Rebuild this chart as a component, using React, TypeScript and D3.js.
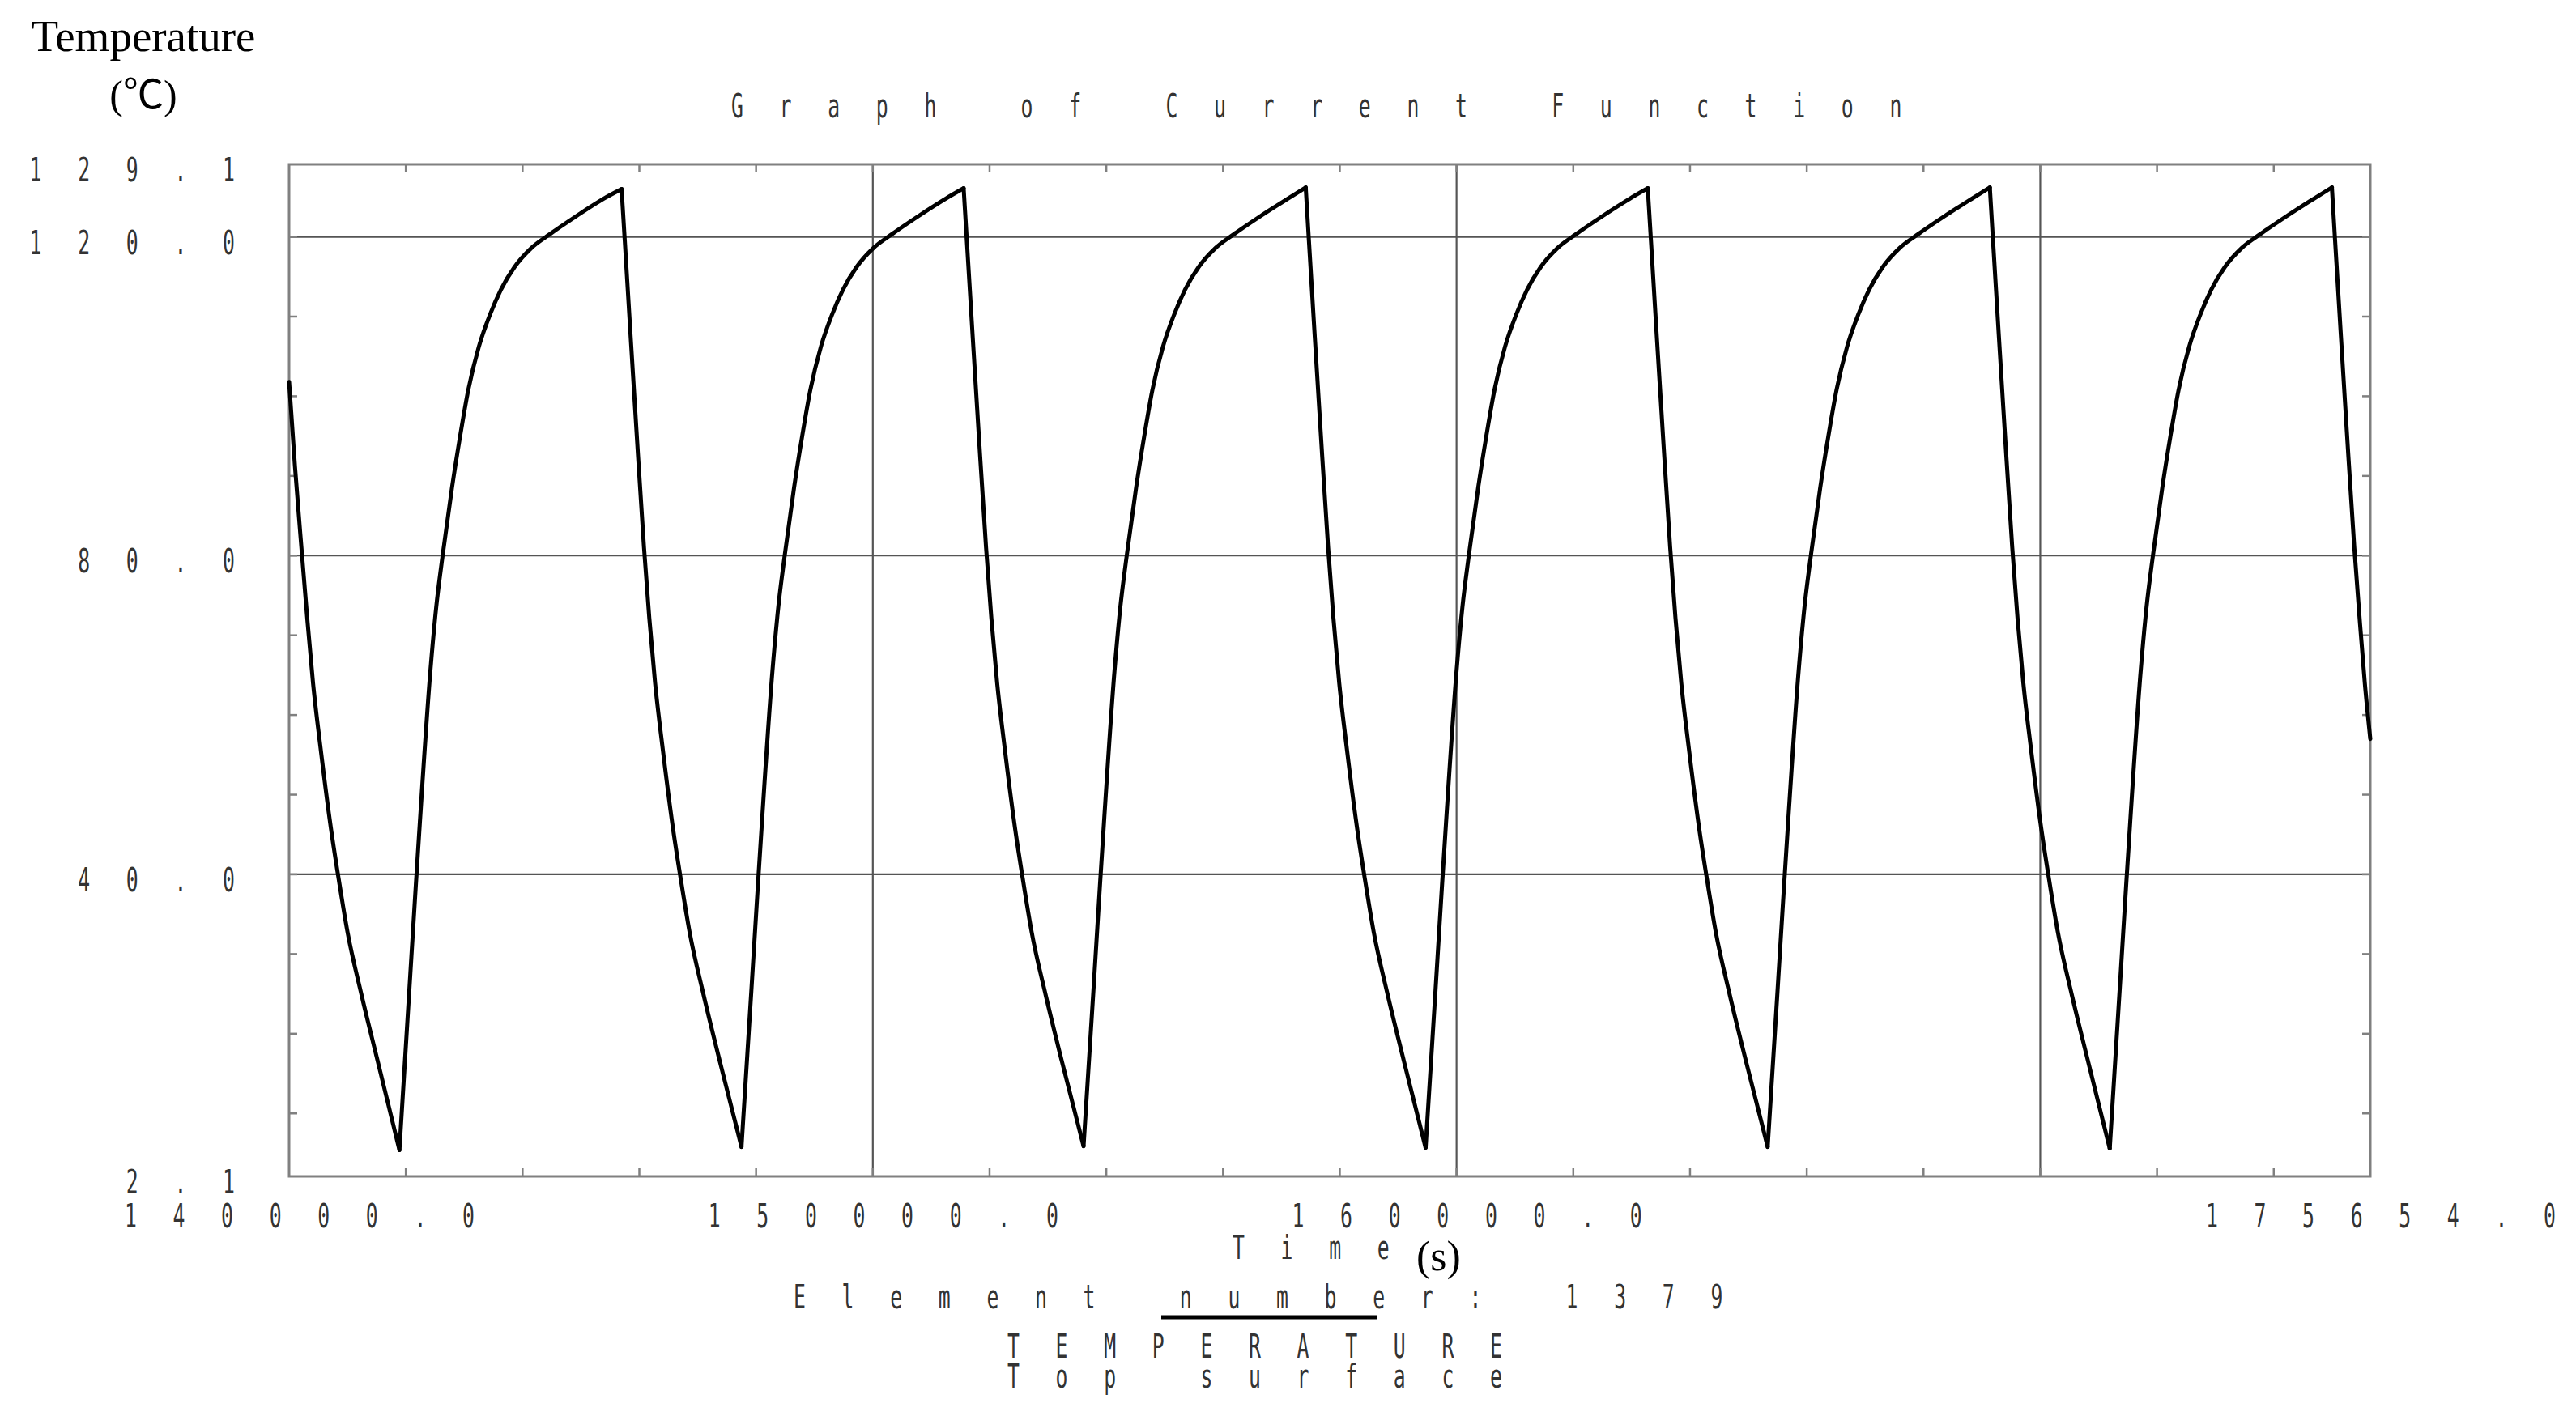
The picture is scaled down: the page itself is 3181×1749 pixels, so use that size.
import React from "react";
import * as d3 from "d3";

const svgWidth = 3181;
const svgHeight = 1749;
const plot = { left: 357, right: 2927, top: 203, bottom: 1453 };

const xDomain: [number, number] = [140000, 175654];
const yDomain: [number, number] = [2.1, 129.1];
const xLabels = [140000, 150000, 160000, 175654];
const yLabels = [2.1, 40, 80, 120, 129.1];
const xGrid = [150000, 160000, 170000];
const yGrid = [40, 80, 120];

// readings: [time s, temperature C], one array per cycle
const lead: [number, number][] = [
  [140000, 101.8], [140100, 91.2], [140220, 80.2], [140310, 72.2], [140410, 64.0],
  [140540, 55.8], [140720, 45.6], [140850, 39.4], [141000, 32.8], [141240, 24.9],
  [141520, 16.5],
];
const cycle1: [number, number][] = [
  [141890, 5.4], [142060, 25.5], [142170, 38.5], [142240, 46.5], [142420, 65.5],
  [142520, 73.5], [142630, 80.0], [142790, 88.5], [142930, 95.0], [143070, 100.8],
  [143250, 106.2], [143450, 110.4], [143630, 113.4], [143860, 116.2], [144150, 118.6],
  [144460, 120.3], [144920, 122.6], [145390, 124.8], [145696, 126.0],
  [145750, 119.6], [145850, 107.6], [145950, 95.8], [146080, 81.0], [146170, 72.2],
  [146270, 64.0], [146400, 55.8], [146580, 45.6], [146710, 39.4], [146860, 32.8],
  [147100, 24.9], [147380, 16.5],
];
const cycle2: [number, number][] = [
  [147750, 5.8], [147920, 25.5], [148030, 38.5], [148100, 46.5], [148280, 65.5],
  [148380, 73.5], [148490, 80.0], [148650, 88.5], [148790, 95.0], [148930, 100.8],
  [149110, 106.2], [149310, 110.4], [149490, 113.4], [149720, 116.2], [150010, 118.6],
  [150320, 120.3], [150780, 122.6], [151250, 124.8], [151556, 126.1],
  [151610, 119.6], [151710, 107.6], [151810, 95.8], [151940, 81.0], [152030, 72.2],
  [152130, 64.0], [152260, 55.8], [152440, 45.6], [152570, 39.4], [152720, 32.8],
  [152960, 24.9], [153240, 16.5],
];
const cycle3: [number, number][] = [
  [153610, 5.9], [153780, 25.5], [153890, 38.5], [153960, 46.5], [154140, 65.5],
  [154240, 73.5], [154350, 80.0], [154510, 88.5], [154650, 95.0], [154790, 100.8],
  [154970, 106.2], [155170, 110.4], [155350, 113.4], [155580, 116.2], [155870, 118.6],
  [156180, 120.3], [156640, 122.6], [157110, 124.8], [157416, 126.2],
  [157470, 119.6], [157570, 107.6], [157670, 95.8], [157800, 81.0], [157890, 72.2],
  [157990, 64.0], [158120, 55.8], [158300, 45.6], [158430, 39.4], [158580, 32.8],
  [158820, 24.9], [159100, 16.5],
];
const cycle4: [number, number][] = [
  [159470, 5.7], [159640, 25.5], [159750, 38.5], [159820, 46.5], [160000, 65.5],
  [160100, 73.5], [160210, 80.0], [160370, 88.5], [160510, 95.0], [160650, 100.8],
  [160830, 106.2], [161030, 110.4], [161210, 113.4], [161440, 116.2], [161730, 118.6],
  [162040, 120.3], [162500, 122.6], [162970, 124.8], [163276, 126.1],
  [163330, 119.6], [163430, 107.6], [163530, 95.8], [163660, 81.0], [163750, 72.2],
  [163850, 64.0], [163980, 55.8], [164160, 45.6], [164290, 39.4], [164440, 32.8],
  [164680, 24.9], [164960, 16.5],
];
const cycle5: [number, number][] = [
  [165330, 5.8], [165500, 25.5], [165610, 38.5], [165680, 46.5], [165860, 65.5],
  [165960, 73.5], [166070, 80.0], [166230, 88.5], [166370, 95.0], [166510, 100.8],
  [166690, 106.2], [166890, 110.4], [167070, 113.4], [167300, 116.2], [167590, 118.6],
  [167900, 120.3], [168360, 122.6], [168830, 124.8], [169136, 126.2],
  [169190, 119.6], [169290, 107.6], [169390, 95.8], [169520, 81.0], [169610, 72.2],
  [169710, 64.0], [169840, 55.8], [170020, 45.6], [170150, 39.4], [170300, 32.8],
  [170540, 24.9], [170820, 16.5],
];
const cycle6: [number, number][] = [
  [171190, 5.6], [171360, 25.5], [171470, 38.5], [171540, 46.5], [171720, 65.5],
  [171820, 73.5], [171930, 80.0], [172090, 88.5], [172230, 95.0], [172370, 100.8],
  [172550, 106.2], [172750, 110.4], [172930, 113.4], [173160, 116.2], [173450, 118.6],
  [173760, 120.3], [174220, 122.6], [174690, 124.8], [174996, 126.2],
  [175050, 119.6], [175150, 107.6], [175250, 95.8], [175380, 81.0], [175470, 72.2],
  [175560, 64.0], [175654, 57.0],
];

const series = [...lead, ...cycle1, ...cycle2, ...cycle3, ...cycle4, ...cycle5, ...cycle6];

// cut the trace into rising / falling runs so the turning points stay sharp
const runs: [number, number][][] = [];
let run: [number, number][] = [series[0]];
for (let i = 1; i < series.length; i++) {
  const p = series[i];
  if (run.length > 1) {
    const up = run[run.length - 1][1] > run[run.length - 2][1];
    if (up !== p[1] > run[run.length - 1][1]) {
      runs.push(run);
      run = [run[run.length - 1]];
    }
  }
  run.push(p);
}
runs.push(run);

// fixed pitch plotter lettering
const PITCH = 59.6;
const SX = 0.62;
const MONO = 40;
const GLYPH = 13;

const Mono = ({ x, y, text, anchor = "start" }: { x: number; y: number; text: string; anchor?: string }) => {
  const w = (text.length - 1) * PITCH + GLYPH;
  const x0 = anchor === "middle" ? x - w / 2 : anchor === "end" ? x - w : x;
  const xs = text.split("").map((_, i) => ((i * PITCH) / SX).toFixed(1)).join(" ");
  return (
    <text
      transform={`translate(${x0},${y}) scale(${SX},1)`}
      x={xs}
      fontFamily="DejaVu Sans Mono"
      fontSize={MONO}
      fill="#333"
    >
      {text}
    </text>
  );
};

export default function App() {
  const x = d3.scaleLinear().domain(xDomain).range([plot.left, plot.right]);
  const y = d3.scaleLinear().domain(yDomain).range([plot.bottom, plot.top]);

  const line = d3
    .line<[number, number]>()
    .x((d) => x(d[0]))
    .y((d) => y(d[1]))
    .curve(d3.curveMonotoneX);

  const xTicks = d3.range(142000, xDomain[1], 2000);
  const yTicks = d3.range(10, 129, 10);
  const tick = 10;
  const axisColor = "#808080";

  return (
    <svg
      width={svgWidth}
      height={svgHeight}
      style={{ position: "absolute", left: 0, top: 0, background: "#fff" }}
    >
      <rect x={0} y={0} width={svgWidth} height={svgHeight} fill="#fff" />

      {/* grid */}
      {yGrid.map((v) => (
        <line key={"gy" + v} x1={plot.left} x2={plot.right} y1={y(v)} y2={y(v)} stroke="#555" strokeWidth={2.2} />
      ))}
      {xGrid.map((v) => (
        <line key={"gx" + v} x1={x(v)} x2={x(v)} y1={plot.top} y2={plot.bottom} stroke="#555" strokeWidth={2.2} />
      ))}

      {/* inward ticks on all four sides */}
      {xTicks.map((v) => (
        <g key={"tx" + v} stroke={axisColor} strokeWidth={2.5}>
          <line x1={x(v)} x2={x(v)} y1={plot.top} y2={plot.top + tick} />
          <line x1={x(v)} x2={x(v)} y1={plot.bottom} y2={plot.bottom - tick} />
        </g>
      ))}
      {yTicks.map((v) => (
        <g key={"ty" + v} stroke={axisColor} strokeWidth={2.5}>
          <line x1={plot.left} x2={plot.left + tick} y1={y(v)} y2={y(v)} />
          <line x1={plot.right} x2={plot.right - tick} y1={y(v)} y2={y(v)} />
        </g>
      ))}

      <rect
        x={plot.left}
        y={plot.top}
        width={plot.right - plot.left}
        height={plot.bottom - plot.top}
        fill="none"
        stroke={axisColor}
        strokeWidth={3}
      />

      {runs.map((r, i) => (
        <path
          key={"run" + i}
          d={line(r) ?? ""}
          fill="none"
          stroke="#000"
          strokeWidth={5}
          strokeLinejoin="round"
          strokeLinecap="round"
        />
      ))}

      {/* tick labels */}
      {yLabels.map((v) => (
        <Mono key={"ly" + v} x={288} y={y(v) + 21} text={v.toFixed(1)} anchor="end" />
      ))}
      {xLabels.map((v) => (
        <Mono key={"lx" + v} x={x(v) + 12} y={1516} text={v.toFixed(1)} anchor="middle" />
      ))}

      <Mono x={903} y={145} text="Graph of Current Function" />
      <Mono x={1522} y={1555} text="Time" />
      <text x={1749} y={1569} fontFamily="Liberation Serif" fontSize={52}>
        (s)
      </text>
      <Mono x={980} y={1616} text="Element number: 1379" />
      <line x1={1434} x2={1700} y1={1627} y2={1627} stroke="#000" strokeWidth={5} />
      <Mono x={1244} y={1677} text="TEMPERATURE" />
      <Mono x={1244} y={1714} text="Top surface" />

      <text x={177} y={63} textAnchor="middle" fontFamily="Liberation Serif" fontSize={55}>
        Temperature
      </text>
      <text
        x={177}
        y={134}
        textAnchor="middle"
        fontFamily="Liberation Serif, Noto Sans CJK SC"
        fontSize={50}
      >
        (℃)
      </text>
    </svg>
  );
}
